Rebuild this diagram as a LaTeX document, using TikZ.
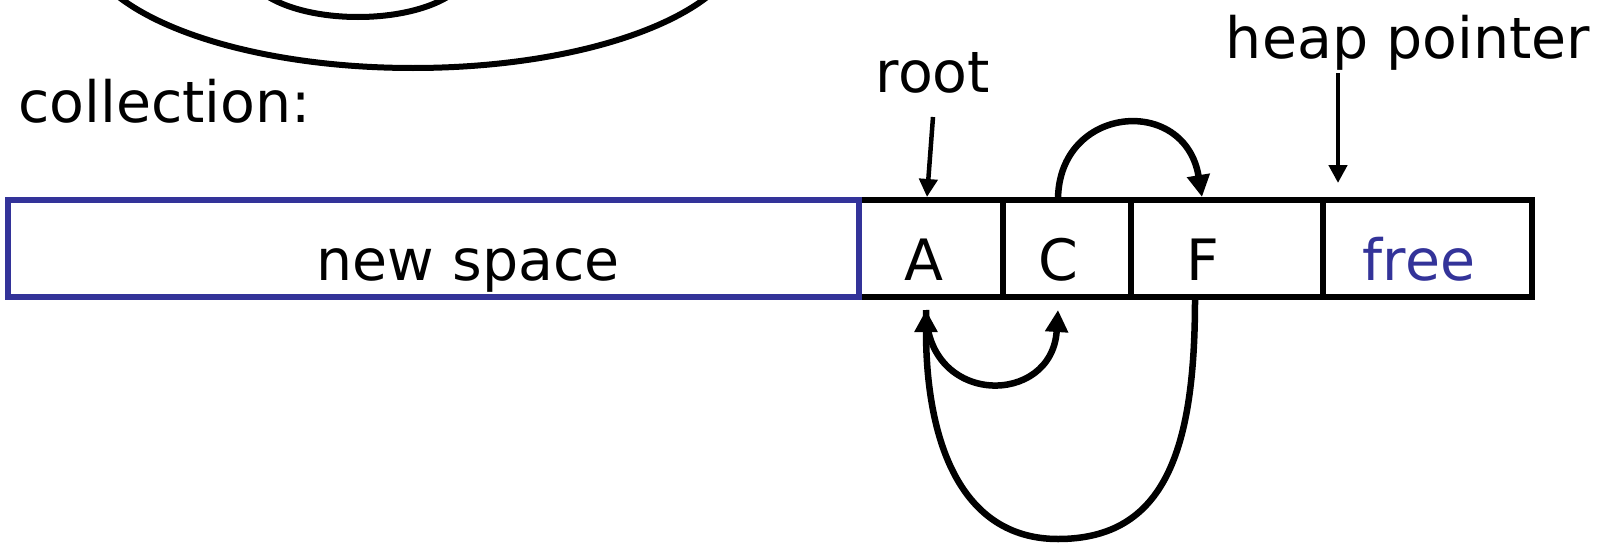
\documentclass[tikz,border=0pt]{standalone}
\usepackage{fontspec}
\setmainfont{DejaVu Sans}
\usetikzlibrary{arrows.meta,calc}
\definecolor{nsblue}{RGB}{51,51,153}
\begin{document}
\begin{tikzpicture}[x=1pt,y=-1pt,
  lbl/.style={font=\fontsize{57}{68}\selectfont, inner sep=0pt, anchor=base},
  cellbox/.style={draw=black, line width=6.5pt, minimum height=97pt, inner sep=0pt, outer sep=0pt, anchor=north west},
  conn/.style={line width=6.5pt, -{Triangle[length=22pt,width=22pt]}},
  rootarr/.style={line width=4.5pt, -{Triangle[length=18pt,width=18pt]}},
  heaparr/.style={line width=4.5pt, -{Triangle[length=18pt,width=18pt]}},
  ring/.style={line width=6pt}
]
\useasboundingbox (0,0) rectangle (1598,546);
\begin{scope}
  \clip (0,0) rectangle (1598,546);
  \draw[ring] (413,-62) ellipse [x radius=330pt, y radius=130pt];
  \draw[ring] (358,-31) ellipse [x radius=110pt, y radius=48pt];
\end{scope}

% cells
\node[cellbox, minimum width=144pt] (cA) at (859,200) {};
\node[cellbox, minimum width=128pt] (cC) at (1003,200) {};
\node[cellbox, minimum width=192pt] (cF) at (1131,200) {};
\node[cellbox, minimum width=209pt] (cfree) at (1323,200) {};
\node[cellbox, draw=nsblue, minimum width=851pt] (ns) at (8,200) {};

% texts
\node[lbl] (tns) at (468,280) {new space};
\node[lbl] (tA) at (924,280) {A};
\node[lbl] (tC) at (1058,280) {C};
\node[lbl] (tF) at (1203,280) {F};
\node[lbl, text=nsblue] (tfree) at (1419,280) {free};
\node[lbl] (troot) at (933,92) {root};
\node[lbl] (theap) at (1408,58) {heap pointer};
\node[lbl, anchor=base west] (tcoll) at (18,122) {collection:};

% connectors
\draw[rootarr] ($(troot.base)+(0,25)$) -- ($(tA.base |- cA.north)+(3,-3)$);
\coordinate (hpfrom) at ($(theap.base)+(-70,15)$);
\draw[heaparr] (hpfrom) -- ($(cfree.north west)+(15,-17)$);
\draw[conn] (tC.base |- cC.north) .. controls +(0,-95) and +(-17,-103) .. ($(tF.base |- cF.north)+(-1,-3)$);
\draw[conn] ($(tA.base |- cA.south)+(2,13)$) .. controls +(0,97) and +(-6,97) .. ($(tC.base |- cC.south)+(0,13)$);
\coordinate (loopbot) at ($(tC.base)+(0,259)$);
\draw[conn] ($(tF.base |- cF.south)+(-8,2)$) .. controls +(0,151) and +(107,0) .. (loopbot)
  .. controls +(-98,0) and +(0,130) .. ($(tA.base |- cA.south)+(2,13)$);
\end{tikzpicture}
\end{document}
